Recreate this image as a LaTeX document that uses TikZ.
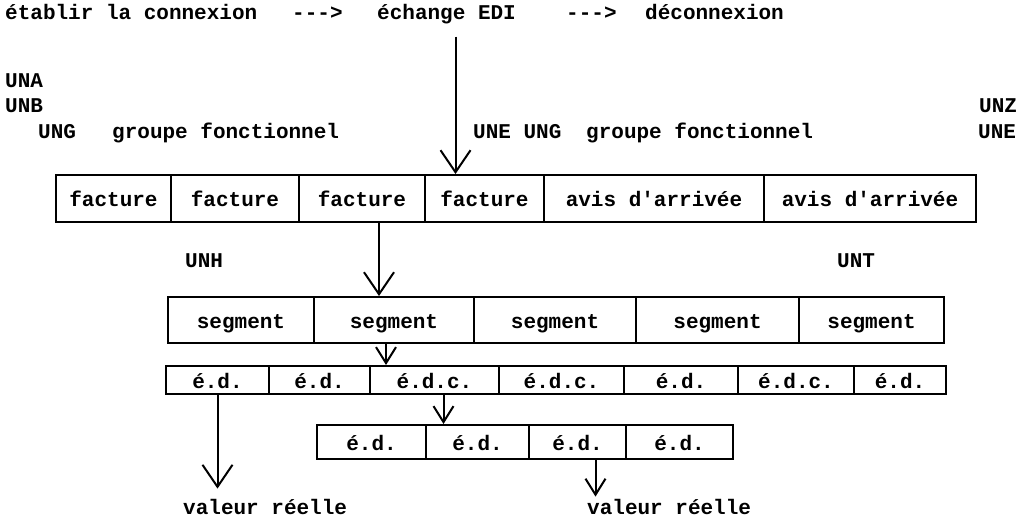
\documentclass[tikz,border=0pt]{standalone}
\usepackage{fontspec}
\setmonofont{Liberation Mono}
\usepackage{tikz}
\usetikzlibrary{arrows.meta,calc}
\tikzset{
  nd_txt/.style={inner sep=0pt,anchor=base west,font=\ttfamily\bfseries\fontsize{21}{24}\selectfont},
  nd_cell/.style={rectangle,draw=black,line width=2pt,inner sep=0pt,anchor=north west,text height=16pt,text depth=0pt,align=center,font=\ttfamily\bfseries\fontsize{21}{24}\selectfont},
  arr/.style={line width=2pt,-{Straight Barb[length=16pt,width=20pt]}},
  arr_big/.style={line width=2pt,-{Straight Barb[length=22pt,width=30pt]}},
}
\begin{document}
\begin{tikzpicture}[x=1pt,y=-1pt]
\useasboundingbox (0,0) rectangle (1022,517);
\def\rF{174}\def\rS{296}\def\rE{365}\def\rU{424}
% connexion line
\node[nd_txt] (conn)   at (5,19)   {établir la connexion};
\node[nd_txt] (dashA)  at (292,19) {--->};
\node[nd_txt] (edi)    at (377,19) {échange EDI};
\node[nd_txt] (dashB)  at (566,19) {--->};
\node[nd_txt] (deconn) at (645,19) {déconnexion};
% service segments
\node[nd_txt] (una)  at (5,87)    {UNA};
\node[nd_txt] (unb)  at (5,112)   {UNB};
\node[nd_txt] (ungA) at (38,138)  {UNG};
\node[nd_txt] (grpA) at (112,138) {groupe fonctionnel};
\node[nd_txt] (uneA) at (473,138) {UNE UNG};
\node[nd_txt] (grpB) at (586,138) {groupe fonctionnel};
\node[nd_txt] (unz)  at (979,112) {UNZ};
\node[nd_txt] (uneB) at (978,138) {UNE};
\node[nd_txt] (unh)  at (185,267) {UNH};
\node[nd_txt] (unt)  at (837,267) {UNT};
% messages
\foreach \n/\xa/\xb/\t in {F1/55/170/facture,F2/170/298/facture,F3/298/424/facture,F4/424/543/facture,F5/543/763/avis d'arrivée,F6/763/975/avis d'arrivée}
  {\node[nd_cell,minimum width={(\xb-\xa)*1pt},minimum height=47pt] (\n) at (\xa,\rF) {\t};}
% segments
\foreach \n/\xa/\xb in {S1/167/313,S2/313/473,S3/473/635,S4/635/798,S5/798/943}
  {\node[nd_cell,minimum width={(\xb-\xa)*1pt},minimum height=46pt] (\n) at (\xa,\rS) {segment};}
% data elements
\foreach \n/\xa/\xb/\t in {E1/165/268/é.d.,E2/268/369/é.d.,E3/369/498/é.d.c.,E4/498/623/é.d.c.,E5/623/737/é.d.,E6/737/853/é.d.c.,E7/853/945/é.d.}
  {\node[nd_cell,minimum width={(\xb-\xa)*1pt},minimum height=28pt] (\n) at (\xa,\rE) {\t};}
\foreach \n/\xa/\xb in {U1/316/425,U2/425/528,U3/528/625,U4/625/732}
  {\node[nd_cell,minimum width={(\xb-\xa)*1pt},minimum height=34pt] (\n) at (\xa,\rU) {é.d.};}
\node[nd_txt] (valA) at (183,514) {valeur réelle};
\node[nd_txt] (valB) at (587,514) {valeur réelle};
% arrows
\coordinate (aTop) at ([xshift=9pt,yshift=-13pt]edi.south);
\coordinate (bTop) at ([xshift=17pt]F3.south);
\coordinate (cTop) at ([xshift=-8pt]S2.south);
\coordinate (dTop) at ([xshift=9pt]E3.south);
\coordinate (fTop) at ([xshift=18pt]U3.south);
\draw[arr_big](aTop)--(aTop |- F4.north);
\draw[arr_big](bTop)--(bTop |- S2.north);
\draw[arr](cTop)--(cTop |- E3.north);
\draw[arr](dTop)--(dTop |- U2.north);
\draw[arr_big,shorten >=10pt](E1.south)--(E1.south |- valA.north);
\draw[arr,shorten >=2pt](fTop)--(fTop |- valB.north);
\end{tikzpicture}
\end{document}
